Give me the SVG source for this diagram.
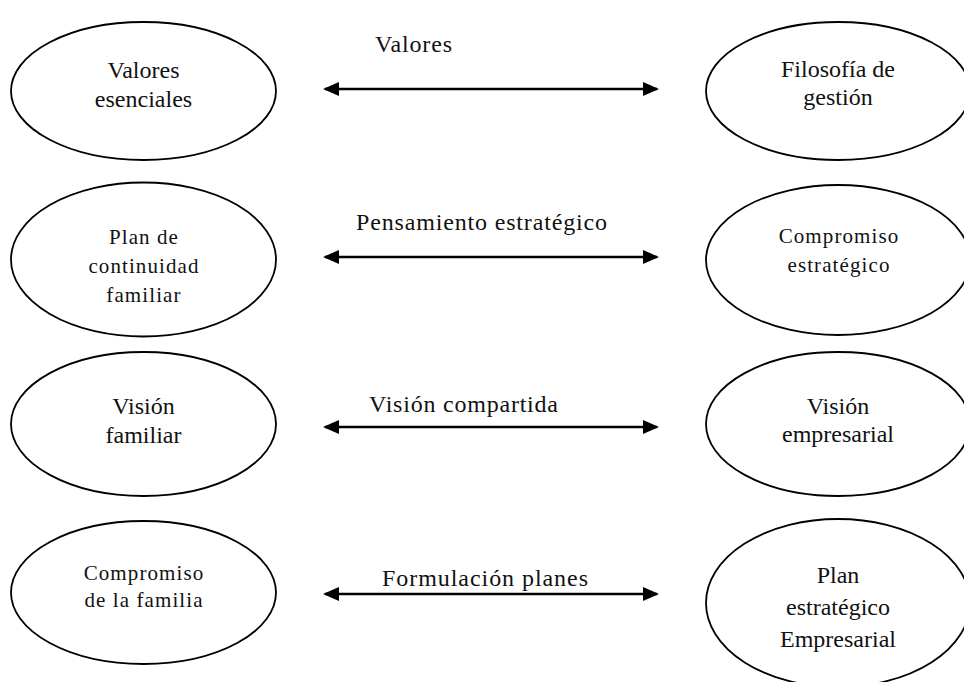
<svg xmlns="http://www.w3.org/2000/svg" width="964" height="682" viewBox="0 0 964 682">
<defs>
<style>
.bg{fill:#fff}
.node ellipse{fill:#fff;stroke:#000;stroke-width:1.8}
text{font-family:"Liberation Serif","Times New Roman",serif;fill:#111}
.big{font-size:24px;text-anchor:middle}
.small{font-size:21px;text-anchor:middle;letter-spacing:1.1px}
.lbl{font-size:24px}
.conn line{stroke:#000;stroke-width:2.6;marker-start:url(#ah);marker-end:url(#ah)}
</style>
<marker id="ah" viewBox="0 0 16 14" refX="14" refY="7" markerWidth="16" markerHeight="14" markerUnits="userSpaceOnUse" orient="auto-start-reverse">
<path d="M0,0 L16,7 L0,14 Z" fill="#000"/>
</marker>
</defs>
<rect class="bg" width="964" height="682"/>

<g id="valores-esenciales" class="node">
<ellipse cx="143.5" cy="91" rx="132.5" ry="69"/>
<text class="big" x="143.5" y="78">Valores</text>
<text class="big" x="143.5" y="107">esenciales</text>
</g>
<g id="filosofia-gestion" class="node">
<ellipse cx="838" cy="91" rx="132" ry="69"/>
<text class="big" x="838" y="77">Filosofía de</text>
<text class="big" x="838" y="105">gestión</text>
</g>

<g id="plan-continuidad" class="node">
<ellipse cx="143.5" cy="259.5" rx="132.5" ry="77"/>
<text class="small" x="144" y="244">Plan de</text>
<text class="small" x="144" y="273">continuidad</text>
<text class="small" x="144" y="302">familiar</text>
</g>
<g id="compromiso-estrategico" class="node">
<ellipse cx="838" cy="260" rx="132" ry="75"/>
<text class="small" x="839" y="243">Compromiso</text>
<text class="small" x="839" y="272">estratégico</text>
</g>

<g id="vision-familiar" class="node">
<ellipse cx="143.5" cy="424" rx="132.5" ry="72"/>
<text class="big" x="143.5" y="414">Visión</text>
<text class="big" x="143.5" y="443">familiar</text>
</g>
<g id="vision-empresarial" class="node">
<ellipse cx="838" cy="424" rx="132" ry="72"/>
<text class="big" x="838" y="414">Visión</text>
<text class="big" x="838" y="442">empresarial</text>
</g>

<g id="compromiso-familia" class="node">
<ellipse cx="143.5" cy="592.5" rx="132.5" ry="71.5"/>
<text class="small" x="144" y="580">Compromiso</text>
<text class="small" x="144" y="607">de la familia</text>
</g>
<g id="plan-estrategico" class="node">
<ellipse cx="838" cy="603" rx="132" ry="84"/>
<text class="big" x="838" y="583">Plan</text>
<text class="big" x="838" y="615">estratégico</text>
<text class="big" x="838" y="647">Empresarial</text>
</g>

<g id="connectors" class="conn">
<line x1="325" y1="89" x2="657" y2="89"/>
<line x1="325" y1="257" x2="657" y2="257"/>
<line x1="325" y1="427" x2="657" y2="427"/>
<line x1="325" y1="594" x2="657" y2="594"/>
<text class="lbl" x="375" y="52" textLength="77" lengthAdjust="spacing">Valores</text>
<text class="lbl" x="356" y="230" textLength="251" lengthAdjust="spacing">Pensamiento estratégico</text>
<text class="lbl" x="369" y="412" textLength="189" lengthAdjust="spacing">Visión compartida</text>
<text class="lbl" x="382" y="586" textLength="206" lengthAdjust="spacing">Formulación planes</text>
</g>
</svg>
